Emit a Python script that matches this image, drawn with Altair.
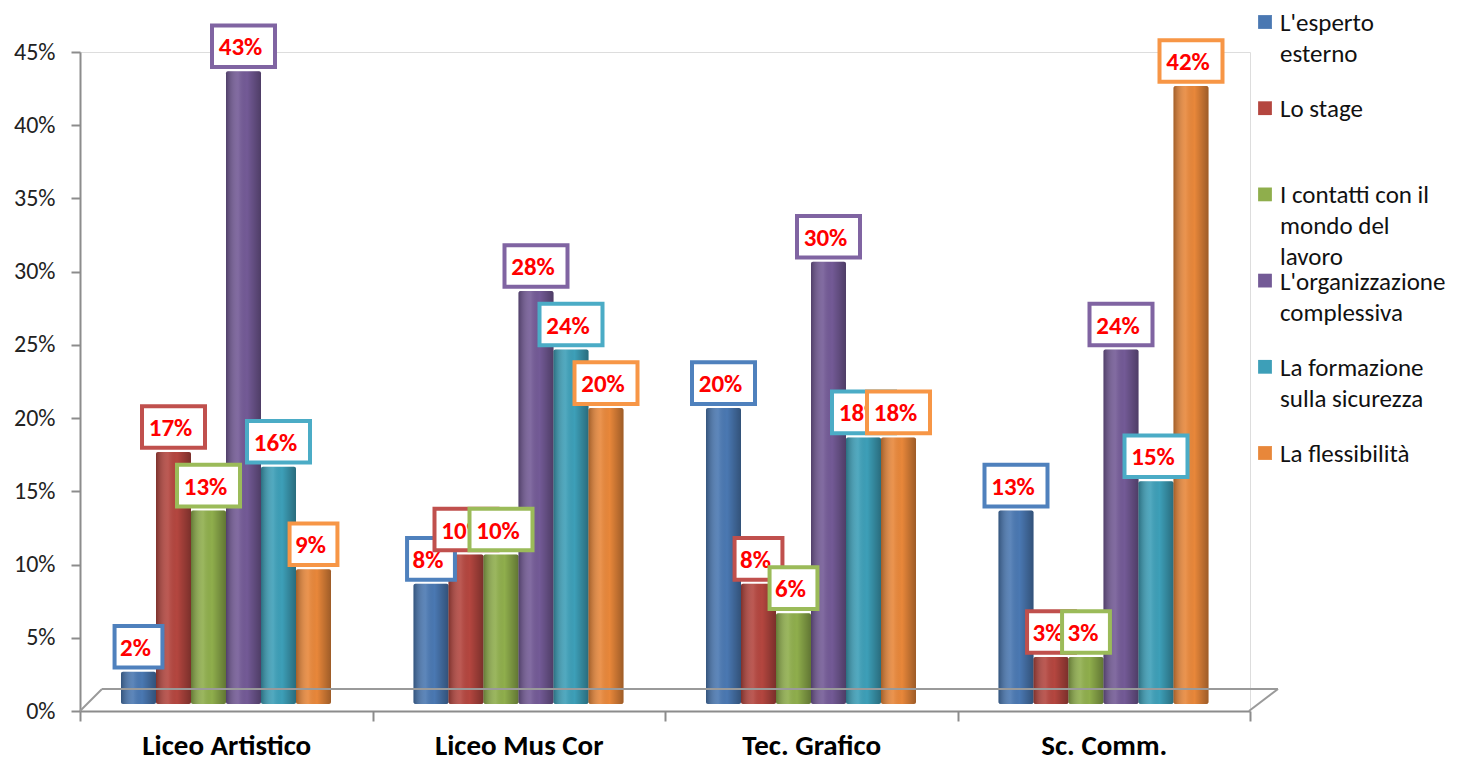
import altair as alt
import pandas as pd

categories = ["Liceo Artistico", "Liceo Mus Cor", "Tec. Grafico", "Sc. Comm."]
series = [
    "L'esperto esterno",
    "Lo stage",
    "I contatti  con il mondo del lavoro",
    "L'organizzazione complessiva",
    "La formazione sulla sicurezza",
    "La flessibilità",
]
legend_lines = [
    ["L'esperto", "esterno"],
    ["Lo stage"],
    ["I contatti  con il", "mondo del", "lavoro"],
    ["L'organizzazione", "complessiva"],
    ["La formazione", "sulla sicurezza"],
    ["La flessibilità"],
]
# percent values per series, in category order
esperto = [2, 8, 20, 13]
stage = [17, 10, 8, 3]
contatti = [13, 10, 6, 3]
organizzazione = [43, 28, 30, 24]
formazione = [16, 24, 18, 15]
flessibilita = [9, 20, 18, 42]
all_values = [esperto, stage, contatti, organizzazione, formazione, flessibilita]

bar_colors = ["#4a78b2", "#b4463f", "#8fae4c", "#735a96", "#3d9fb8", "#e8873a"]
box_colors = ["#4f81bd", "#c0504d", "#9bbb59", "#8064a2", "#4bacc6", "#f79646"]
y_ticks = [0, 0.05, 0.10, 0.15, 0.20, 0.25, 0.30, 0.35, 0.40, 0.45]

FONT = "Carlito, Lato, sans-serif"

rows = []
for s, vals in zip(series, all_values):
    for c, v in zip(categories, vals):
        rows.append({"category": c, "series": s, "value": v / 100.0,
                     "label": f"{v}%", "digits": str(len(str(v)))})
df = pd.DataFrame(rows)
legend_df = pd.DataFrame({"series": series, "lines": legend_lines})

W, H = 1170, 659

x_enc = alt.X("category:N", sort=categories,
              scale=alt.Scale(paddingInner=0, paddingOuter=0),
              axis=alt.Axis(title=None, tickBand="extent", labelAngle=0,
                            labelFont=FONT, labelFontSize=29, labelFontWeight="bold",
                            labelColor="#000", labelPadding=10,
                            domainColor="#8c8c8c", domainWidth=2,
                            tickColor="#8c8c8c", tickWidth=2, tickSize=10))
xoff = alt.XOffset("series:N", sort=series,
                   scale=alt.Scale(range=[41, 251], paddingInner=0, paddingOuter=0))
y_scale = alt.Scale(domain=[0, 0.45], nice=False, zero=True)
y_axis = alt.Axis(title=None, format=".0%", values=y_ticks, grid=False,
                  labelFont=FONT, labelFontSize=24, labelColor="#222",
                  labelPadding=16, domainColor="#8c8c8c", domainWidth=2,
                  tickColor="#8c8c8c", tickWidth=2, tickSize=9)
y_plain = alt.Y("value:Q", scale=y_scale, stack=None)
color_enc = alt.Color("series:N", sort=series,
                      scale=alt.Scale(domain=series, range=bar_colors), legend=None)

base = alt.Chart(df)

bar_kw = dict(yOffset=-10, y2Offset=-7, xOffset=-3, cornerRadius=2)
bars = base.mark_bar(**bar_kw).encode(
    x=x_enc, xOffset=xoff,
    y=alt.Y("value:Q", scale=y_scale, axis=y_axis, stack=None),
    y2=alt.datum(0),
    color=color_enc,
)

shade = alt.LinearGradient(
    gradient="linear", x1=0, x2=1, y1=0, y2=0,
    stops=[
        alt.GradientStop(color="rgba(0,0,0,0.30)", offset=0),
        alt.GradientStop(color="rgba(255,255,255,0.10)", offset=0.35),
        alt.GradientStop(color="rgba(0,0,0,0.0)", offset=0.6),
        alt.GradientStop(color="rgba(0,0,0,0.32)", offset=1),
    ],
)
bars_shade = base.mark_bar(fill=shade, **bar_kw).encode(
    x=x_enc, xOffset=xoff, y=y_plain, y2=alt.datum(0),
)

floor_src = alt.Data(values=[{"k": 0}])
floor_style = dict(color="#9a9a9a", strokeWidth=2)
floor_left = alt.Chart(floor_src).mark_rule(**floor_style).encode(
    x=alt.value(0), y=alt.value(H), x2=alt.value(22), y2=alt.value(H - 22))
floor_back = alt.Chart(floor_src).mark_rule(**floor_style).encode(
    x=alt.value(22), y=alt.value(H - 22), x2=alt.value(W + 28), y2=alt.value(H - 22))
floor_right = alt.Chart(floor_src).mark_rule(**floor_style).encode(
    x=alt.value(W + 28), y=alt.value(H - 22), x2=alt.value(W - 1), y2=alt.value(H))

path2 = "M-1,-0.66H1V0.66H-1Z"
path1 = "M-0.76,-0.66H0.76V0.66H-0.76Z"

label_layers = []
for s, bc in zip(series, box_colors):
    sub = base.transform_filter(alt.datum.series == s)
    box = sub.mark_point(filled=True, fill="white", fillOpacity=1, opacity=1,
                         stroke=bc, strokeWidth=4, size=3969,
                         yOffset=-35, xOffset=-3).encode(
        x=x_enc, xOffset=xoff, y=y_plain,
        shape=alt.Shape("digits:N", scale=alt.Scale(domain=["1", "2"], range=[path1, path2]),
                        legend=None),
    )
    txt = sub.mark_text(font=FONT, fontSize=25, fontWeight="bold", color="#ff0000",
                        baseline="middle", align="center", dy=-34, dx=-3).encode(
        x=x_enc, xOffset=xoff, y=y_plain,
        text="label:N",
    )
    label_layers += [box, txt]

main = alt.layer(bars, bars_shade, floor_left, floor_back, floor_right, *label_layers)

leg_y = alt.Y("series:N", sort=series,
              scale=alt.Scale(domain=series, type="point", range=[-30, 401], padding=0),
              axis=None)
leg_sq = alt.Chart(legend_df).mark_square(size=190, opacity=1).encode(
    x=alt.value(W + 15), y=leg_y, color=color_enc)
leg_txt = alt.Chart(legend_df).mark_text(font=FONT, fontSize=25, align="left",
                                         baseline="alphabetic", lineHeight=31, dy=9,
                                         color="#111").encode(
    x=alt.value(W + 30), y=leg_y, text="lines")
legend = alt.layer(leg_sq, leg_txt)

chart = alt.layer(main, legend).resolve_scale(y="independent").properties(
    width=W, height=H,
    autosize=alt.AutoSizeParams(type="none"),
    padding={"left": 72, "top": 44, "right": 218, "bottom": 55},
).configure_view(strokeWidth=0).configure(background="white")

chart.save("out.html", embed_options={"renderer": "svg", "actions": False})
